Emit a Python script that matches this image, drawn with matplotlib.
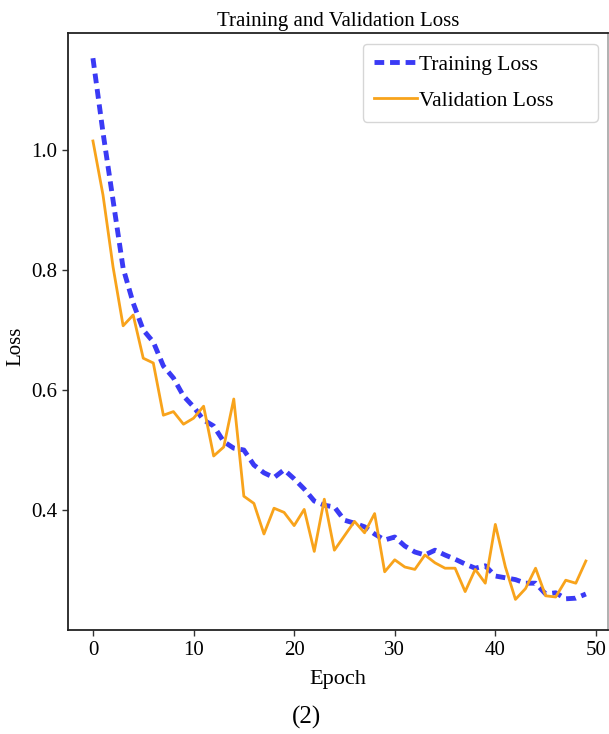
import matplotlib
matplotlib.use("Agg")
import matplotlib.pyplot as plt
import numpy as np

epochs = list(range(50))
training_loss = [1.153, 1.029, 0.916, 0.803, 0.745, 0.700, 0.680, 0.640, 0.620, 0.590,
                 0.572, 0.550, 0.540, 0.514, 0.503, 0.500, 0.475, 0.462, 0.454, 0.467,
                 0.452, 0.435, 0.415, 0.408, 0.405, 0.383, 0.378, 0.372, 0.360, 0.350,
                 0.355, 0.340, 0.330, 0.325, 0.333, 0.325, 0.318, 0.310, 0.303, 0.307,
                 0.290, 0.287, 0.284, 0.278, 0.278, 0.260, 0.262, 0.252, 0.253, 0.260]
validation_loss = [1.015, 0.925, 0.805, 0.707, 0.725, 0.653, 0.645, 0.558, 0.564, 0.543,
                   0.553, 0.573, 0.490, 0.505, 0.585, 0.423, 0.411, 0.360, 0.403, 0.396,
                   0.374, 0.401, 0.331, 0.418, 0.333, 0.357, 0.381, 0.362, 0.394, 0.297,
                   0.317, 0.305, 0.301, 0.325, 0.312, 0.303, 0.303, 0.264, 0.301, 0.278,
                   0.376, 0.305, 0.251, 0.269, 0.303, 0.257, 0.255, 0.283, 0.278, 0.315]
xticks = [0, 10, 20, 30, 40, 50]
yticks = [0.4, 0.6, 0.8, 1.0]

plt.rcParams['font.family'] = ['Liberation Serif', 'DejaVu Serif']

W, H = 609, 734
fig = plt.figure(figsize=(W / 100, H / 100), dpi=100)
ax = fig.add_axes([68.3 / W, 1 - 630 / H, (608 - 68.3) / W, (630 - 33) / H])

ax.plot(epochs, training_loss, color='#3a3af5', linestyle=(0, (2.0, 1.2)), linewidth=3.5,
        label='Training Loss')
ax.plot(epochs, validation_loss, color='#f8a31b', linestyle='-', linewidth=2.0,
        label='Validation Loss')

ax.set_xticks(xticks)
ax.set_yticks(yticks)
ax.set_xticklabels([str(t) for t in xticks], fontsize=15)
ax.set_yticklabels([f"{t:.1f}" for t in yticks], fontsize=15)
ax.tick_params(direction='out', length=4, width=1.0, color='#333333', pad=4)
ax.set_xlim(-2.45, 51.2)
ax.set_ylim(0.2, 1.195)
for s in ax.spines.values():
    s.set_linewidth(1.3)
    s.set_color('#222222')
ax.spines['right'].set_color('#aaaaaa')

ax.set_title('Training and Validation Loss', fontsize=15, pad=5)
ax.set_xlabel('Epoch', fontsize=16, labelpad=7)
ax.set_ylabel('Loss', fontsize=15)
ax.yaxis.set_label_coords(-0.080, 0.475)

leg = ax.legend(loc='upper left', fontsize=15.5, frameon=True, fancybox=True,
                edgecolor='#cccccc', handlelength=2.0, handletextpad=0.1,
                borderpad=0.5, labelspacing=0.75, borderaxespad=0.0,
                mode='expand', bbox_to_anchor=(0.546, 0.858, 0.435, 0.124))

fig.text(306 / W, 1 - 717 / H, '(2)', ha='center', va='center', fontsize=18)

fig.savefig('out.png', dpi=100)
